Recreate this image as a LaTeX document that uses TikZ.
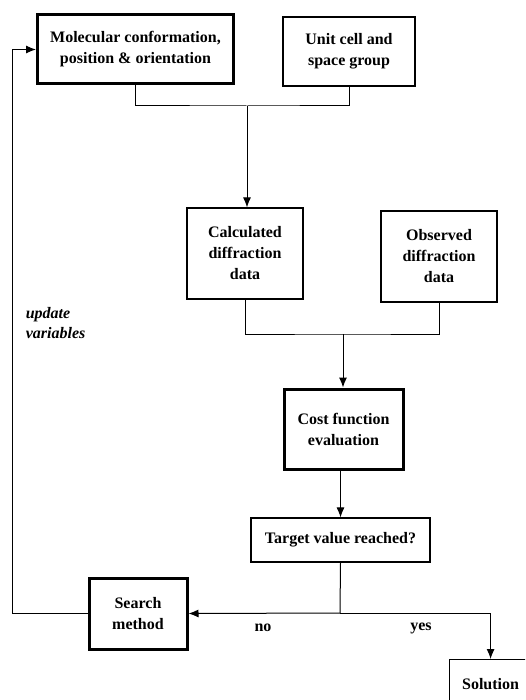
\documentclass[tikz,border=0pt]{standalone}
\usepackage{fontspec}
\setmainfont{Liberation Serif}
\usetikzlibrary{arrows.meta}

\tikzset{
  box/.style={draw, line width=1.2pt, align=center, inner sep=2pt, font=\fontsize{16}{21}\selectfont\bfseries},
  thickbox/.style={box, line width=3pt},
  lbl/.style={font=\fontsize{16}{20}\selectfont\bfseries}
}

\begin{document}
\begin{tikzpicture}[x=1pt, y=-1pt, line width=1pt, >={Latex[length=10pt,width=8pt]}]
\useasboundingbox (0,0) rectangle (525,700);
\clip (0,0) rectangle (525,700);
\node[thickbox, minimum width=196pt, minimum height=69pt] (mol) at (135.5,49.5) {Molecular conformation,\\position \& orientation};
\node[box, minimum width=132pt, minimum height=69pt] (cell) at (349,51.5) {Unit cell and\\space group};
\node[box, minimum width=116pt, minimum height=91pt] (calc) at (245,253.5) {Calculated\\diffraction\\data};
\node[box, minimum width=116pt, minimum height=91pt] (obs) at (439,256.5) {Observed\\diffraction\\data};
\node[thickbox, minimum width=119pt, minimum height=80pt] (cost) at (343.5,429) {Cost function\\evaluation};
\node[box, minimum width=179pt, minimum height=44pt] (target) at (340.5,540) {Target value reached?};
\node[thickbox, minimum width=98pt, minimum height=71pt] (search) at (138,613.5) {Search\\method};
\node[box, minimum width=82pt, minimum height=48pt, anchor=north west] (sol) at (449,659) {Solution};
\coordinate (j1) at (247,106);
\coordinate (j2) at (343,334);
\coordinate (j3) at (340,613);
\draw (mol.south) |- (j1) -| (cell.south);
\draw[->] (j1) -- (j1 |- calc.north);
\draw (calc.south) |- (j2) -| (obs.south);
\draw[->] (j2) -- (j2 |- cost.north);
\draw[->] (target.north |- cost.south) -- (target.north);
\draw (target.south) -- (j3);
\draw[->] (j3) -- (search.east);
\draw[->] (j3) -| (sol.north);
\draw[->] (search.west) -- ++(-75,0) |- (mol.west);
\node[lbl] (no) at (263,628) {no};
\node[lbl] (yes) at (421,628) {yes};
\node[lbl, anchor=west, align=left, font=\fontsize{16}{20}\selectfont\bfseries\itshape] (upd) at (22,323) {update\\variables};
\end{tikzpicture}
\end{document}
